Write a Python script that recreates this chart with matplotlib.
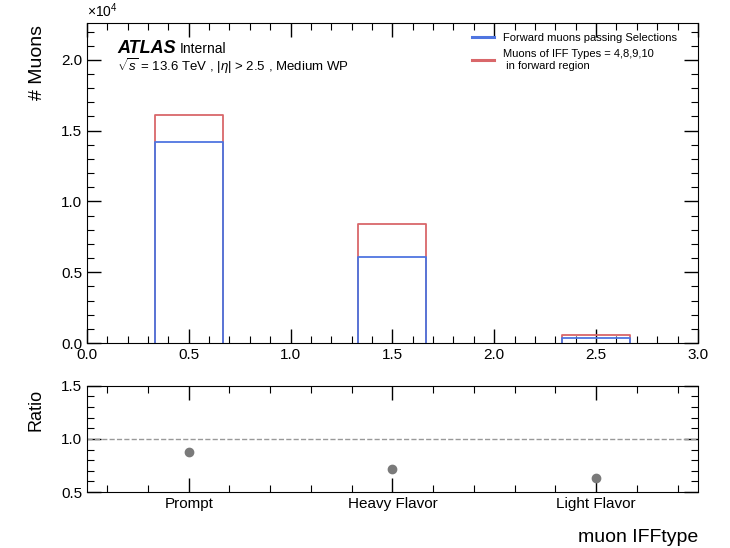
import numpy as np
import matplotlib
matplotlib.use("Agg")
import matplotlib.pyplot as plt
from matplotlib.ticker import MultipleLocator, FixedLocator
from matplotlib.lines import Line2D

plt.rcParams['font.family'] = ['Liberation Sans', 'DejaVu Sans']
plt.rcParams['mathtext.fontset'] = 'custom'
plt.rcParams['mathtext.rm'] = 'Liberation Sans'
plt.rcParams['mathtext.it'] = 'Liberation Sans:italic'

# bins (three IFF categories)
bin_centers = [0.5, 1.5, 2.5]
categories = ["Prompt", "Heavy Flavor", "Light Flavor"]
passing = [14200, 6080, 360]      # forward muons passing selections
all_iff = [16120, 8420, 570]      # muons of IFF types 4,8,9,10
ratio = [0.88, 0.72, 0.63]

blue = '#4f75e0'
red = '#d9676a'

fig = plt.figure(figsize=(7.3, 5.48), dpi=100)
ax = fig.add_axes([0.119, 0.374, 0.837, 0.584])
rax = fig.add_axes([0.119, 0.102, 0.837, 0.194])

for i, c in enumerate(bin_centers):
    lo, hi = c - 1/6, c + 1/6
    ax.plot([lo, lo, hi, hi], [0, all_iff[i], all_iff[i], 0], color=red, lw=1.3)
    ax.plot([lo, lo, hi, hi], [0, passing[i], passing[i], 0], color=blue, lw=1.3)

ax.set_xlim(0, 3)
ax.set_ylim(0, 22600)
ax.xaxis.set_minor_locator(MultipleLocator(0.1))
ax.yaxis.set_minor_locator(MultipleLocator(1000))
ax.set_yticks([0, 5000, 10000, 15000, 20000])
ax.set_yticklabels(["0.0", "0.5", "1.0", "1.5", "2.0"])
ax.set_xticks([0, 0.5, 1, 1.5, 2, 2.5, 3])
ax.set_xticklabels(["0.0", "0.5", "1.0", "1.5", "2.0", "2.5", "3.0"])
ax.text(0.0, 1.01, r"$\times$10$^4$", transform=ax.transAxes, fontsize=10, ha='left', va='bottom')
ax.set_ylabel("# Muons", fontsize=14)
ax.yaxis.set_label_coords(-0.067, 0.877)

for a in (ax, rax):
    a.tick_params(which='both', direction='in', top=True, right=True, labelsize=11)
    a.tick_params(which='major', length=10, width=1)
    a.tick_params(which='minor', length=5, width=0.8)

ax.text(0.05, 0.906, "ATLAS", transform=ax.transAxes, fontsize=13,
        fontweight='bold', fontstyle='italic')
ax.text(0.152, 0.906, "Internal", transform=ax.transAxes, fontsize=10)
ax.text(0.05, 0.85, r"$\sqrt{s}$ = 13.6 TeV , $|\eta|$ > 2.5 , Medium WP",
        transform=ax.transAxes, fontsize=9.5)

handles = [Line2D([], [], color=blue, lw=2.2), Line2D([], [], color=red, lw=2.2)]
labels = ["Forward muons passing Selections", "Muons of IFF Types = 4,8,9,10\n in forward region"]
ax.legend(handles, labels, loc='upper right', bbox_to_anchor=(0.982, 1.0), frameon=False,
          fontsize=8, handlelength=2.0, handletextpad=0.8, labelspacing=0.55)

# ratio panel
rax.plot(bin_centers, ratio, 'o', color='#7a7a7a', ms=6)
rax.axhline(1.0, color='#999999', ls='--', lw=1)
rax.set_xlim(0, 3)
rax.set_ylim(0.5, 1.5)
rax.yaxis.set_minor_locator(MultipleLocator(0.1))
rax.set_yticks([0.5, 1.0, 1.5])
rax.set_yticklabels(["0.5", "1.0", "1.5"])
rax.set_xticks(bin_centers)
rax.set_xticklabels(categories)
rax.xaxis.set_minor_locator(FixedLocator(np.arange(0.1, 3.0, 0.2)))
rax.set_ylabel("Ratio", fontsize=13)
rax.yaxis.set_label_coords(-0.069, 0.77)
rax.set_xlabel("muon IFFtype", fontsize=14, loc='right', labelpad=13)

fig.savefig("out.png", dpi=100)
